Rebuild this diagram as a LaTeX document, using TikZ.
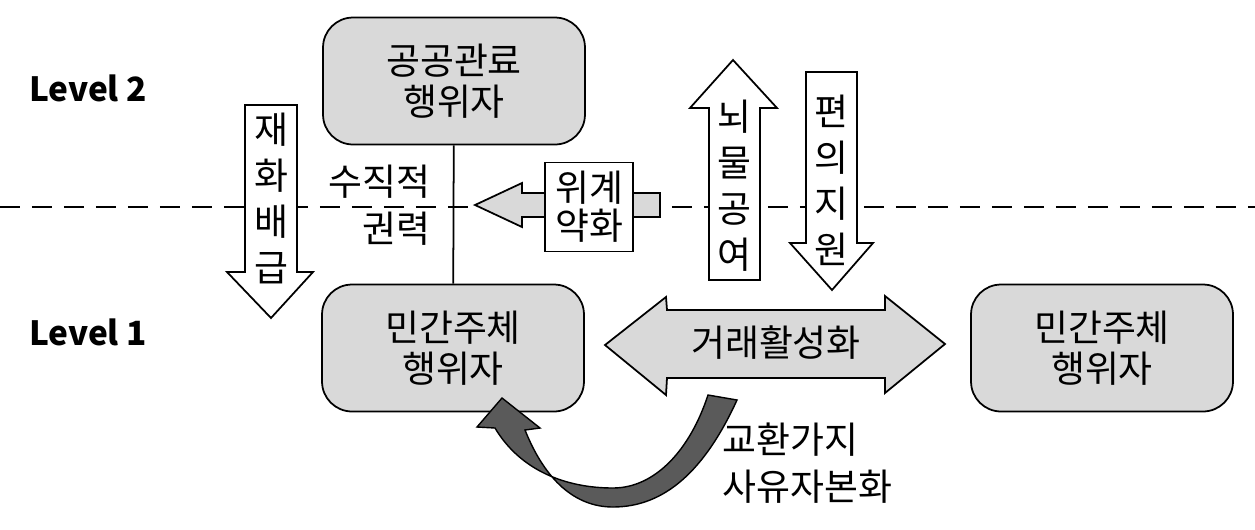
\documentclass[tikz,border=0pt]{standalone}
\usepackage{fontspec}
\setmainfont{Noto Sans CJK KR}
\usetikzlibrary{positioning}
\definecolor{boxgray}{RGB}{217,217,217}
\definecolor{darkarrow}{RGB}{90,90,90}
\tikzset{
	every node/.style={
		font=\fontsize{21}{23}\selectfont
	},
	actor/.style={
		shape=rectangle,
		minimum width=5.24cm,
		minimum height=2.54cm,
		rounded corners=0.6cm,
		fill=boxgray,
		draw,
		line width=1pt,
		align=center
	},
	level/.style={
		font=\fontsize{19}{23}\selectfont\bfseries
	},
	vtext/.style={
		align=center,
		inner sep=0pt,
		font=\fontsize{21}{26.2}\selectfont
	},
	plain/.style={
		inner sep=0pt,
		font=\fontsize{21}{26.5}\selectfont
	},
	blockarrow/.style={
		fill=white,
		draw,
		line width=1pt
	},
	grayarrow/.style={
		fill=boxgray,
		draw,
		line width=1pt
	},
	levelline/.style={
		line width=0.9pt,
		dash pattern=on 0.4cm off 0.24cm
	}
}

\begin{document}
\begin{tikzpicture}[x=0.02cm,y=-0.02cm]
	\useasboundingbox (0,0) rectangle (1255,529);
	
	\draw[levelline] (0,207) -- (1255,207);
	
	\node[level] (lv2) at (88,88) {Level 2};
	\node[level] (lv1) at (88,332) {Level 1};
	
	\node[actor] (official) at (454,81) {공공관료\\행위자};
	\node[actor] (privL) at (453,348) {민간주체\\행위자};
	\node[actor] (privR) at (1102,348) {민간주체\\행위자};
	\draw[line width=1pt] (official) -- (privL);
	
	\node[plain, align=right, anchor=east] (power) at (431,205) {수직적\\권력};
	
	% downward and upward arrows
	\draw[blockarrow] (245,105) -- (297,105) -- (297,272) -- (313,272) -- (271,318)
		-- (227,272) -- (245,272) -- cycle;
	\node[vtext] (goods) at (271,198) {재\\화\\배\\급};
	
	\draw[blockarrow] (709,280) -- (709,108) -- (690,108) -- (733,60) -- (777,108)
		-- (760,108) -- (760,280) -- cycle;
	\node[vtext] (bribe) at (734,186) {뇌\\물\\공\\여};
	
	\draw[blockarrow] (806,72) -- (857,72) -- (857,243) -- (873,243) -- (832,290)
		-- (790,243) -- (806,243) -- cycle;
	\node[vtext] (favor) at (831,180) {편\\의\\지\\원};
	
	% hierarchy arrow
	\draw[grayarrow] (660,193) -- (522,193) -- (522,183) -- (475,205) -- (522,227)
		-- (522,217) -- (660,217) -- cycle;
	\node[draw, fill=white, line width=1pt, minimum width=1.76cm, minimum height=1.78cm,
		align=center, font=\fontsize{21}{21.5}\selectfont] (weaken) at (589,207) {위계\\약화};
	
	% trade arrow
	\draw[grayarrow] (605,345) -- (666,297) -- (667,310) -- (885,310) -- (885,296)
		-- (945,344) -- (885,393) -- (885,378) -- (667,378) -- (666,395) -- cycle;
	\node (trade) at (776,343) {거래활성화};
	
	% curved arrow
	\draw[fill=darkarrow, line width=0.8pt] (708,395) -- (737,400)
		.. controls (705,470) and (665,507) .. (613,507)
		.. controls (575,507) and (545,480) .. (525,430)
		-- (540,428) -- (502,398) -- (477,427) -- (495,428)
		.. controls (520,470) and (565,488) .. (613,488)
		.. controls (655,488) and (690,450) .. (708,395) -- cycle;
	\node[plain, align=left, anchor=west] (privatize) at (722,463) {교환가지\\사유자본화};
	
\end{tikzpicture}
\end{document}
